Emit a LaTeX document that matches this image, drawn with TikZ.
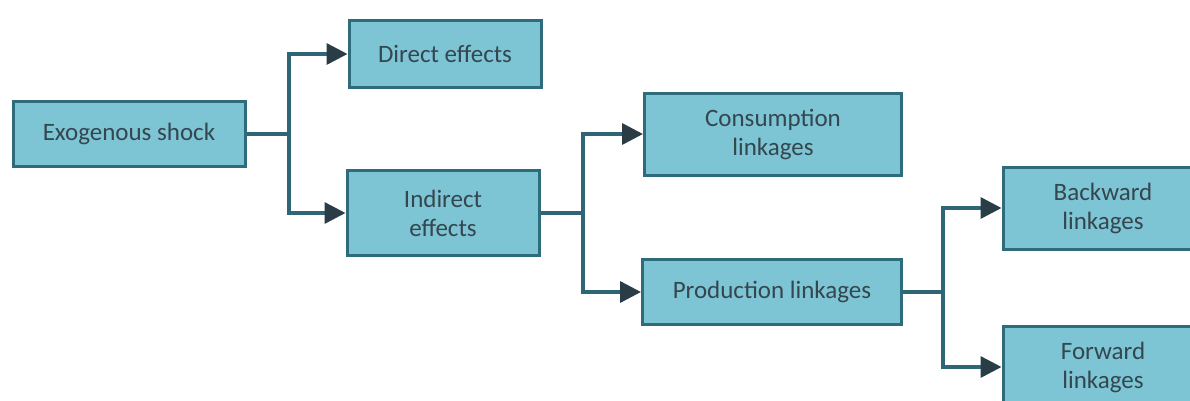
\documentclass[tikz,border=0pt]{standalone}
\usepackage{fontspec}
\setmainfont{Carlito}
\usetikzlibrary{arrows.meta}
\definecolor{boxfill}{HTML}{7DC4D5}
\definecolor{boxline}{HTML}{2E6C7B}
\definecolor{txt}{HTML}{34464E}
\definecolor{conn}{HTML}{2E6675}
\definecolor{tipc}{HTML}{2A3D46}
\tikzset{
  box/.style={draw=boxline, fill=boxfill, line width=3pt, text=txt, align=center,
    font=\fontsize{25}{29}\selectfont, inner sep=0pt},
  link/.style={draw=conn, line width=3.5pt},
  arr/.style={link, -{Triangle[length=21pt,width=21pt,color=tipc]}}
}
\begin{document}
\begin{tikzpicture}[x=1pt,y=-1pt]
\useasboundingbox (0,0) rectangle (1190,400);
\node[box, minimum width=232pt, minimum height=65pt] (exo) at (129,134) {Exogenous shock};
\node[box, minimum width=192pt, minimum height=67pt] (direct) at (445,54) {Direct effects};
\node[box, minimum width=192pt, minimum height=85pt] (indirect) at (443,213) {Indirect\\effects};
\node[box, minimum width=257pt, minimum height=82pt] (cons) at (773,134) {Consumption\\linkages};
\node[box, minimum width=259pt, minimum height=65pt] (prod) at (772,292) {Production linkages};
\node[box, minimum width=200pt, minimum height=82pt] (back) at (1103,208) {Backward\\linkages};
\node[box, minimum width=200pt, minimum height=82pt] (fwd) at (1103,367) {Forward\\linkages};
\coordinate (j1) at (289,134);
\coordinate (j2) at (583,213);
\coordinate (j3) at (943,292);
\draw[link] (exo.east) -- (j1);
\draw[arr] (j1) |- (direct.west);
\draw[arr] (j1) |- (indirect.west);
\draw[link] (indirect.east) -- (j2);
\draw[arr] (j2) |- (cons.west);
\draw[arr] (j2) |- (prod.west);
\draw[link] (prod.east) -- (j3);
\draw[arr] (j3) |- (back.west);
\draw[arr] (j3) |- (fwd.west);
\end{tikzpicture}
\end{document}
